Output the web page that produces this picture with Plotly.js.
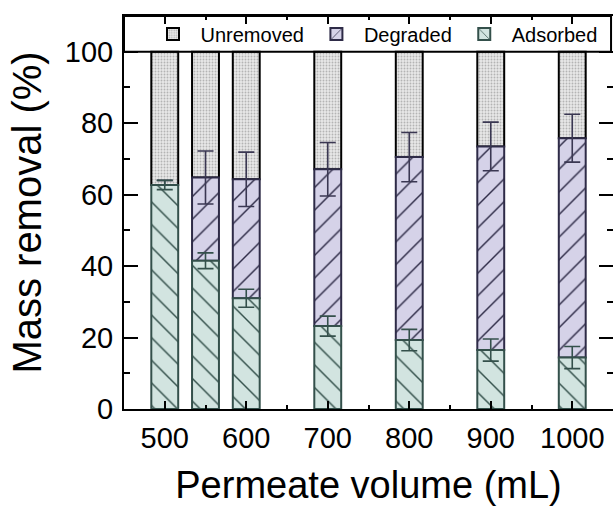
<!DOCTYPE html>
<html>
<head>
<meta charset="utf-8">
<script src="https://cdn.plot.ly/plotly-3.0.1.min.js"></script>
<style>html,body{margin:0;padding:0;background:#fff}#chart{width:613px;height:506px}</style>
</head>
<body>
<div id="chart"></div>
<script>
// Data
const volumes   = [500, 550, 600, 700, 800, 900, 1000];
const adsorbed  = [62.7, 41.5, 31.0, 23.2, 19.3, 16.5, 14.4];
const adsErr    = [1.3, 2.2, 2.5, 2.8, 3.0, 3.1, 3.1];
const degraded  = [0.0, 23.3, 33.3, 43.9, 51.2, 57.0, 61.4];
const totErr    = [1.3, 7.4, 7.6, 7.5, 6.9, 6.8, 6.7];
const unremoved = [37.3, 35.2, 35.7, 32.9, 29.5, 26.5, 24.2];
const xTicks    = [500, 600, 700, 800, 900, 1000];
const yTicks    = [0, 20, 40, 60, 80, 100];

const degBase = adsorbed.slice();
const unrBase = adsorbed.map((a, i) => a + degraded[i]);

const FONT = 'Liberation Sans, Arial, sans-serif';
const BW = 33;

const traces = [
  {
    type: 'bar', name: 'Unremoved', x: volumes, y: unremoved, base: unrBase, width: BW,
    marker: {color: '#e4e4e4', line: {color: '#000000', width: 2},
      pattern: {shape: '.', fgcolor: '#b4b4b4', bgcolor: '#e8e8e8', size: 3, solidity: 0.3}},
    hoverinfo: 'skip'
  },
  {
    type: 'bar', name: 'Degraded', x: volumes, y: degraded, base: degBase, width: BW,
    marker: {color: '#d5d2e8', line: {color: '#2e2b47', width: 2},
      pattern: {shape: '/', fgcolor: '#2e2b47', bgcolor: '#d5d2e8', size: 16, solidity: 0.09}},
    error_y: {type: 'data', array: totErr, visible: true, color: '#3a3752', thickness: 1.6, width: 8},
    hoverinfo: 'skip'
  },
  {
    type: 'bar', name: 'Adsorbed', x: volumes, y: adsorbed, width: BW,
    marker: {color: '#d2e4e0', line: {color: '#34504b', width: 2},
      pattern: {shape: '\\', fgcolor: '#34504b', bgcolor: '#d2e4e0', size: 16, solidity: 0.09}},
    error_y: {type: 'data', array: adsErr, visible: true, color: '#34504b', thickness: 1.6, width: 8},
    hoverinfo: 'skip'
  }
];

const layout = {
  width: 613, height: 506,
  margin: {l: 124, r: 0, t: 16, b: 97, autoexpand: false},
  paper_bgcolor: '#ffffff', plot_bgcolor: '#ffffff',
  barmode: 'overlay',
  showlegend: true,
  legend: {
    orientation: 'h', x: 0.044, xanchor: 'left', y: 0.954, yanchor: 'middle',
    bgcolor: 'rgba(0,0,0,0)', borderwidth: 0,
    font: {family: FONT, size: 20, color: '#000'},
    itemwidth: 45,
    traceorder: 'normal', itemclick: false
  },
  font: {family: FONT, color: '#000'},
  xaxis: {
    range: [450, 1050], tickvals: xTicks, ticktext: xTicks.map(String),
    ticks: 'inside', ticklen: 8, tickwidth: 2, tickcolor: '#000',
    minor: {dtick: 50, tick0: 450, ticks: 'inside', ticklen: 4, tickwidth: 2, tickcolor: '#000'},
    showline: true, linecolor: '#000', linewidth: 2, mirror: 'allticks',
    showgrid: false, zeroline: false,
    tickfont: {family: FONT, size: 29, color: '#000'},
    ticklabelstandoff: 2,
    title: {text: 'Permeate volume (mL)', font: {family: FONT, size: 38, color: '#000'}, standoff: 19}
  },
  yaxis: {
    range: [0, 110], tickvals: yTicks, ticktext: yTicks.map(String),
    ticks: 'inside', ticklen: 14, tickwidth: 2, tickcolor: '#000',
    minor: {dtick: 10, tick0: 0, ticks: 'inside', ticklen: 6, tickwidth: 2, tickcolor: '#000'},
    showline: true, linecolor: '#000', linewidth: 2, mirror: 'allticks',
    showgrid: false, zeroline: false,
    tickfont: {family: FONT, size: 29, color: '#000'},
    ticklabelstandoff: 3,
    title: {text: 'Mass removal (%)', font: {family: FONT, size: 40, color: '#000'}, standoff: 11}
  },
  shapes: [
    {type: 'rect', xref: 'paper', yref: 'y', x0: 0, x1: 0.996, y0: 100, y1: 110,
     line: {color: '#000', width: 2}, fillcolor: 'rgba(0,0,0,0)', layer: 'above'}
  ]
};

Plotly.newPlot('chart', traces, layout, {staticPlot: true, displayModeBar: false});
</script>
</body>
</html>
